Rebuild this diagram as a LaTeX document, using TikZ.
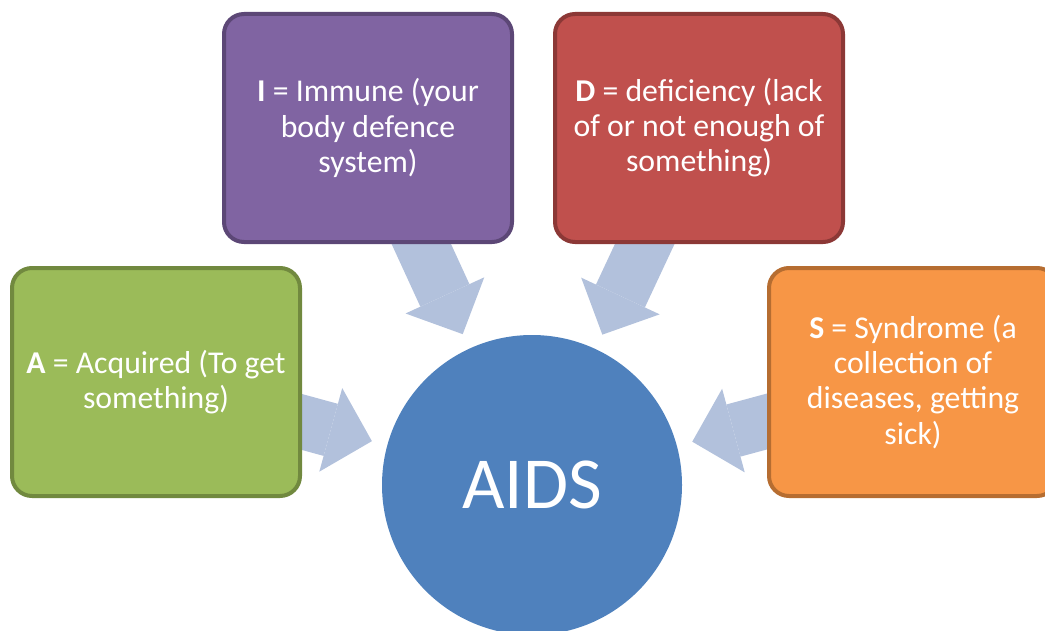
\documentclass[tikz,border=0pt]{standalone}
\usepackage{fontspec}
\setmainfont{Carlito}
\usetikzlibrary{arrows.meta,backgrounds}
\definecolor{greenfill}{HTML}{9BBB59}
\definecolor{greenline}{HTML}{71893F}
\definecolor{purplefill}{HTML}{8064A2}
\definecolor{purpleline}{HTML}{5C4776}
\definecolor{redfill}{HTML}{C0504D}
\definecolor{redline}{HTML}{8C3836}
\definecolor{orangefill}{HTML}{F79646}
\definecolor{orangeline}{HTML}{B66D31}
\definecolor{circlefill}{HTML}{4F81BD}
\definecolor{arrowblue}{HTML}{B2C1DC}
\begin{document}
\begin{tikzpicture}[x=0.75pt,y=-0.75pt,
  box/.style={rounded corners=15pt, line width=3pt, minimum width=216pt,
    minimum height=171pt, align=center, text=white, inner sep=0pt, outer sep=0pt,
    font=\fontsize{23.8}{26.3}\selectfont},
  hub/.style={circle, fill=circlefill, minimum size=225pt, inner sep=0pt, outer sep=0pt,
    text=white, font=\fontsize{55}{62}\selectfont},
  feed/.style={arrowblue, line width=40.5pt,
    -{Triangle[length=32pt,width=65pt,line width=0pt]}, shorten >=12pt}]
\clip (0,0) rectangle (1045,631);
\useasboundingbox (0,0) rectangle (1045,631);
\node[box, fill=greenfill, draw=greenline] (A) at (156,382) {\textbf{A} = Acquired (To get\\something)};
\node[box, fill=purplefill, draw=purpleline] (I) at (368,128) {\textbf{I} = Immune (your\\body defence\\system)};
\node[box, fill=redfill, draw=redline] (D) at (699,128) {\textbf{D} = deficiency (lack\\of or not enough of\\something)};
\node[box, fill=orangefill, draw=orangeline] (S) at (913,382) {\textbf{S} = Syndrome (a\\collection of\\diseases, getting\\sick)};
\node[hub] (aids) at (532,485) {AIDS};
\begin{scope}[on background layer]
\draw[feed] (A.center) -- (aids);
\draw[feed] (I.center) -- (aids);
\draw[feed] (D.center) -- (aids);
\draw[feed] (S.center) -- (aids);
\end{scope}
\end{tikzpicture}
\end{document}
